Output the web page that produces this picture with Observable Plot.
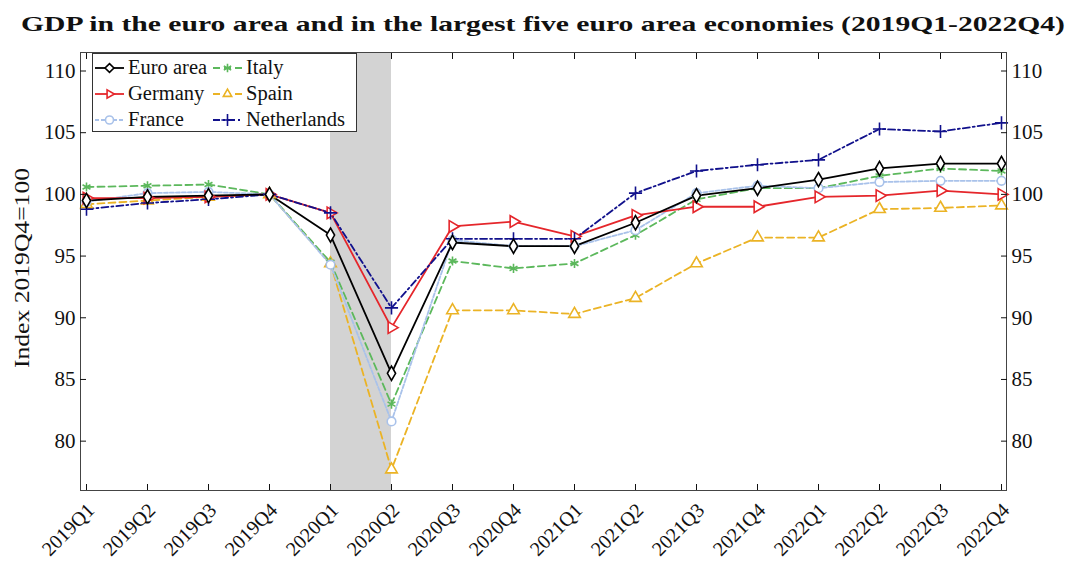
<!DOCTYPE html>
<html><head><meta charset="utf-8">
<script src="https://cdn.jsdelivr.net/npm/d3@7"></script>
<script src="https://cdn.jsdelivr.net/npm/@observablehq/plot@0.6"></script>
<style>
body{margin:0;background:#fff;}
#wrap{position:relative;width:1072px;height:563px;overflow:hidden;font-family:"Liberation Serif",serif;}
#title{position:absolute;left:0;top:0;}
#chart{position:absolute;left:0;top:40px;}
#legend{position:absolute;left:92px;top:53px;}
#ylab{position:absolute;left:0;top:0;}
svg text{font-family:"Liberation Serif",serif;}
</style>
</head><body>
<div id="wrap">
  <svg id="title" width="1072" height="40"></svg>
  <div id="chart"></div>
  <svg id="ylab" width="40" height="563"></svg>
  <svg id="legend" width="266" height="80"></svg>
</div>
<script>
const quarters = ["2019Q1","2019Q2","2019Q3","2019Q4","2020Q1","2020Q2","2020Q3","2020Q4",
                  "2021Q1","2021Q2","2021Q3","2021Q4","2022Q1","2022Q2","2022Q3","2022Q4"];
const euroArea    = [99.5, 99.8, 99.9, 100, 96.7, 85.5, 96.1, 95.8, 95.8, 97.7, 99.9, 100.5, 101.2, 102.1, 102.5, 102.5];
const germany     = [99.7, 99.7, 99.8, 100, 98.5, 89.2, 97.4, 97.8, 96.6, 98.3, 99.0, 99.0, 99.8, 99.9, 100.3, 100.0];
const france      = [99.4, 100.1, 100.2, 100, 94.3, 81.6, 96.3, 95.8, 95.8, 97.1, 100.1, 100.7, 100.5, 101.0, 101.1, 101.1];
const italy       = [100.6, 100.7, 100.8, 100, 94.5, 83.0, 94.6, 94.0, 94.4, 96.7, 99.6, 100.5, 100.5, 101.5, 102.1, 101.9];
const spain       = [99.2, 99.5, 99.8, 100, 94.4, 77.7, 90.6, 90.6, 90.3, 91.6, 94.4, 96.5, 96.5, 98.8, 98.9, 99.1];
const netherlands = [98.8, 99.3, 99.6, 100, 98.5, 90.8, 96.4, 96.4, 96.4, 100.1, 101.9, 102.4, 102.8, 105.3, 105.1, 105.8];
const yTicks = [80, 85, 90, 95, 100, 105, 110];
const recession = ["2020Q1", "2020Q2"];

const seriesDefs = [
  {name:"Spain",       values:spain,       color:"#ebb325", dash:"7,4",      symbol:"triangle", rotate:0,  fill:"white"},
  {name:"Italy",       values:italy,       color:"#5cb85c", dash:"7,4",      symbol:"asterisk", rotate:0,  fill:"#5cb85c"},
  {name:"France",      values:france,      color:"#a9c2ea", dash:"4,2",      symbol:"circle",   rotate:0,  fill:"white"},
  {name:"Germany",     values:germany,     color:"#e5262b", dash:null,       symbol:"triangle", rotate:90, fill:"white"},
  {name:"Netherlands", values:netherlands, color:"#11118c", dash:"7,3,2,3",  symbol:"plus",     rotate:0,  fill:"none"},
  {name:"Euro area",   values:euroArea,    color:"#000000", dash:null,       symbol:"diamond",  rotate:0,  fill:"white"}
];

const FONT = "'Liberation Serif', serif";
const marks = [
  Plot.rect([{a: recession[0], b: recession[1]}], {x1:"a", x2:"b", y1:()=>76, y2:()=>111.5, fill:"#d3d3d3"}),
];
for (const s of seriesDefs) {
  const rows = quarters.map((q,i)=>({q, v:s.values[i]}));
  marks.push(Plot.line(rows, {x:"q", y:"v", stroke:s.color, strokeWidth:1.8, strokeDasharray:s.dash}));
}
for (const s of seriesDefs) {
  const rows = quarters.map((q,i)=>({q, v:s.values[i]}));
  marks.push(Plot.dot(rows, {x:"q", y:"v", stroke:s.color, fill:s.fill, symbol:()=>s.symbol, rotate:s.rotate, r:4.3, strokeWidth:1.6}));
}
marks.push(
  Plot.frame({stroke:"#444"}),
  Plot.axisY(yTicks, {anchor:"left", tickSize:-6, tickPadding:11, fontSize:21, fontFamily:FONT, label:null}),
  Plot.axisY(yTicks, {anchor:"right", tickSize:-6, tickPadding:11, fontSize:21, fontFamily:FONT, label:null}),
  Plot.axisX({anchor:"bottom", tickSize:-6, tickFormat:()=>"", label:null}),
  Plot.axisX({anchor:"top", tickSize:-6, tickFormat:()=>"", label:null}),
  Plot.text(quarters, {x:d=>d, text:d=>d, frameAnchor:"bottom", rotate:-45, textAnchor:"end", lineAnchor:"bottom",
                       dx:9, dy:21, fontSize:20, fontFamily:FONT, fill:"#111"})
);

const chart = Plot.plot({
  width:1072, height:523,
  marginTop:12, marginBottom:73, marginLeft:80, marginRight:66,
  style:{fontFamily:FONT, fontSize:"20px", color:"#111", background:"white"},
  x:{type:"point", domain:quarters, padding:0},
  y:{domain:[76,111.5]},
  symbol:{type:"identity"},
  marks
});
document.getElementById("chart").appendChild(chart);

// title
d3.select("#title").append("text")
  .attr("x", 21).attr("y", 31)
  .attr("textLength", 1044).attr("lengthAdjust","spacingAndGlyphs")
  .attr("font-weight","bold").attr("font-size", 22).attr("fill","#111")
  .text("GDP in the euro area and in the largest five euro area economies (2019Q1-2022Q4)");

// y label
d3.select("#ylab").append("text")
  .attr("transform","translate(29,268) rotate(-90)")
  .attr("text-anchor","middle").attr("font-size", 22).attr("fill","#111")
  .attr("textLength", 200).attr("lengthAdjust","spacingAndGlyphs")
  .text("Index 2019Q4=100");

// legend
const lg = d3.select("#legend");
lg.append("rect").attr("x",0.5).attr("y",0.5).attr("width",264).attr("height",78).attr("fill","white").attr("stroke","#333");
const symMap = {triangle:d3.symbolTriangle2, asterisk:d3.symbolAsterisk, circle:d3.symbolCircle, plus:d3.symbolPlus, diamond:d3.symbolDiamond2};
const legendOrder = ["Euro area","Italy","Germany","Spain","France","Netherlands"];
legendOrder.forEach((name, i) => {
  const s = seriesDefs.find(d=>d.name===name);
  const col = i % 2, row = Math.floor(i/2);
  const x0 = col === 0 ? 3 : 121, y = 15 + row*26;
  const g = lg.append("g");
  g.append("line").attr("x1",x0).attr("x2",x0+29).attr("y1",y).attr("y2",y)
    .attr("stroke",s.color).attr("stroke-width",1.8).attr("stroke-dasharray",s.dash);
  g.append("path").attr("d", d3.symbol(symMap[s.symbol], Math.PI*4*4)())
    .attr("transform",`translate(${x0+14.5},${y}) rotate(${s.rotate})`)
    .attr("stroke",s.color).attr("fill",s.fill).attr("stroke-width",1.6);
  g.append("text").attr("x",x0+33).attr("y",y+6).attr("font-size",20.5)
    .attr("fill","#111").text(name);
});
</script>
</body></html>
